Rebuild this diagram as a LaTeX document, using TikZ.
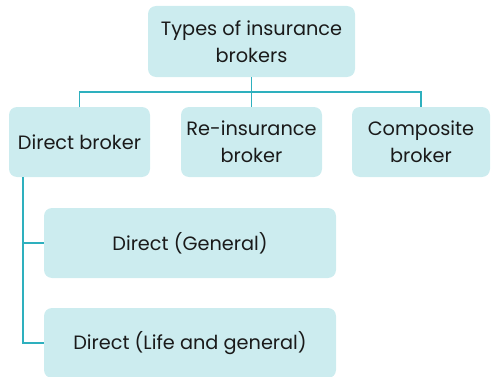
\documentclass[tikz,border=0pt]{standalone}
\usepackage{fontspec}
\setmainfont{Poppins}
\begin{document}
\begin{tikzpicture}[x=1pt,y=1pt,
  box/.style={rectangle, rounded corners=8pt, fill=boxfill, draw=none,
    align=center, text=textdark, inner sep=0pt,
    font=\fontsize{19.3}{27}\selectfont},
  link/.style={draw=linkteal, line width=1.5pt}]
\definecolor{boxfill}{HTML}{CCECEF}
\definecolor{linkteal}{HTML}{2EB0BE}
\definecolor{textdark}{HTML}{1A1A1A}
\useasboundingbox (0,0) rectangle (491,376);

% root
\node[box, minimum width=207pt, minimum height=71pt] (root) at (251.5,334.5)
  {Types of insurance\\brokers};

% second level
\node[box, minimum width=141pt, minimum height=70pt] (direct) at (79.5,234) {Direct broker};
\node[box, minimum width=141pt, minimum height=70pt] (reins) at (251.5,234) {Re-insurance\\broker};
\node[box, minimum width=138pt, minimum height=70pt] (comp) at (421,234) {Composite\\broker};

% direct broker sub-types
\node[box, minimum width=292pt, minimum height=70pt] (dgen) at (190,133) {Direct (General)};
\node[box, minimum width=292pt, minimum height=70pt] (dlife) at (190,33) {Direct (Life and general)};

% connectors
\coordinate (bus) at (251.5,284);
\draw[link] (root.south) -- (bus);
\draw[link] (direct.north) |- (bus) -| (comp.north);
\draw[link] (bus) -- (reins.north);
\coordinate (trunk) at (23,0);
\draw[link] (direct.south -| trunk) |- (dgen.west);
\draw[link] (direct.south -| trunk) |- (dlife.west);
\end{tikzpicture}
\end{document}
